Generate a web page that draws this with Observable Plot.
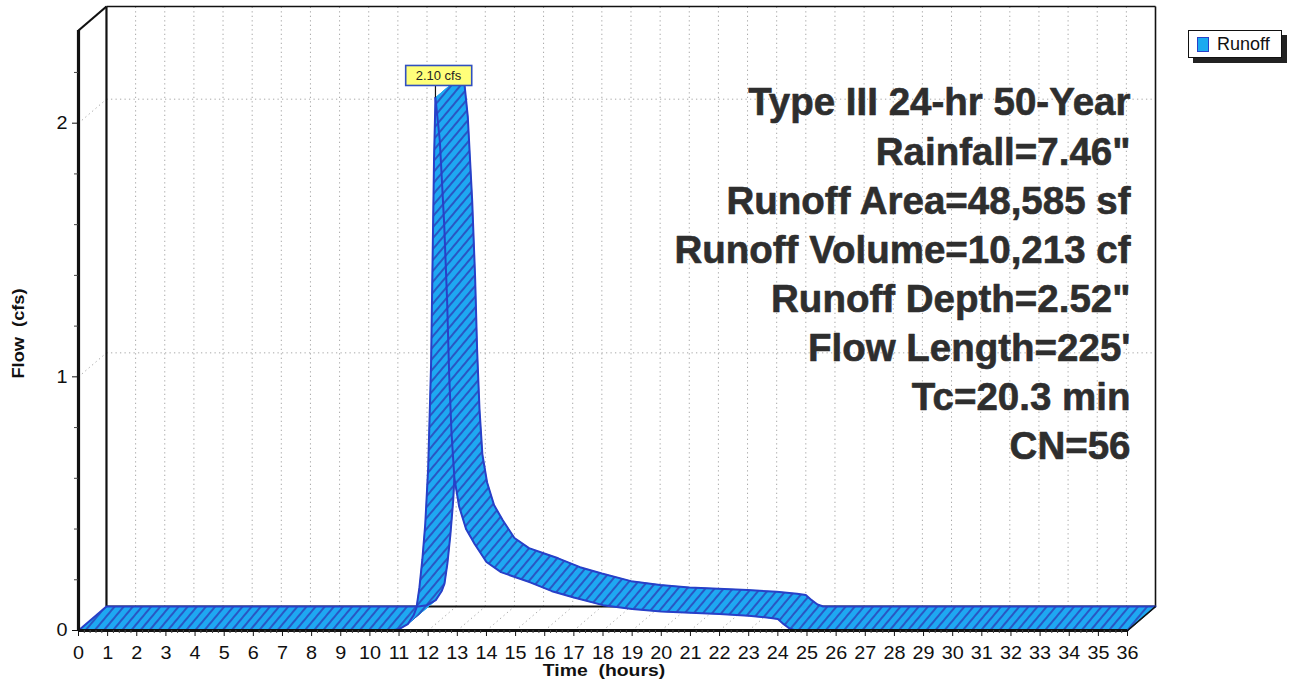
<!DOCTYPE html>
<html>
<head>
<meta charset="utf-8">
<script src="https://cdn.jsdelivr.net/npm/d3@7"></script>
<script src="https://cdn.jsdelivr.net/npm/@observablehq/plot@0.6"></script>
<style>
  body { margin: 0; background: #fff; font-family: "Liberation Sans", Arial, sans-serif; }
  #wrap { position: relative; width: 1292px; height: 684px; overflow: hidden; }
  #legend { position: absolute; left: 1188px; top: 30px; width: 92px; height: 26px; border: 1.5px solid #111;
            background: #fff; box-shadow: 5px 5px 0 #222; display: flex; align-items: center;
            font-size: 18px; color: #111; }
  #legend .sw { width: 10px; height: 13px; background: #1AAAF0; border: 1.5px solid #2840C8; margin: 0 8px 0 8px; }
</style>
</head>
<body>
<div id="wrap"></div>
<script>
// ---- data ----
const hours = [0, 10.7, 11.0, 11.3, 11.5, 11.6, 11.7, 11.8, 11.9, 12.0, 12.1, 12.15, 12.2, 12.25,
               12.4, 12.55, 12.65, 12.72, 12.8, 12.9, 13.06, 13.3, 13.6, 14.0, 14.5, 15.0, 15.5,
               16.25, 17.0, 18.0, 19.0, 20.0, 21.0, 22.0, 23.0, 23.7, 24.0, 24.2, 24.4, 24.6, 36];
const flow  = [0, 0, 0.005, 0.025, 0.06, 0.09, 0.17, 0.28, 0.42, 0.64, 1.05, 1.45, 1.85, 2.10,
               1.93, 1.60, 1.30, 1.01, 0.78, 0.60, 0.49, 0.40, 0.34, 0.27, 0.23, 0.21, 0.19,
               0.155, 0.13, 0.10, 0.085, 0.075, 0.07, 0.065, 0.058, 0.05, 0.045, 0.025, 0.008, 0, 0];
const seriesName = "Runoff";
const peakLabel = "2.10 cfs";
const xTicks = d3.range(0, 37);
const yTicks = [0, 1, 2];
const annotationLines = [
  "Type III 24-hr 50-Year",
  "Rainfall=7.46\"",
  "Runoff Area=48,585 sf",
  "Runoff Volume=10,213 cf",
  "Runoff Depth=2.52\"",
  "Flow Length=225'",
  "Tc=20.3 min",
  "CN=56"
];

// ---- 3D box geometry (depth offset in data units) ----
const DX = 0.96, DY = 0.0946;
const X_MAX = 36, Y_TOP = 2.46;
const FRONT_TOP = Y_TOP - DY;

const pts = hours.map((t, i) => ({t, v: flow[i]}));
const peakIdx = flow.indexOf(d3.max(flow));
const peak = pts[peakIdx];

function quads(from, to) {
  const out = [];
  for (let i = from; i < to; i++) {
    const a = pts[i], b = pts[i + 1];
    out.push({seg: i, x: a.t, y: a.v}, {seg: i, x: b.t, y: b.v},
             {seg: i, x: b.t + DX, y: b.v + DY}, {seg: i, x: a.t + DX, y: a.v + DY},
             {seg: i, x: a.t, y: a.v});
  }
  return out;
}
const riseQ = quads(0, peakIdx);
const fallQ = quads(peakIdx, pts.length - 1);
const front = p => ({x: p.t, y: p.v});
const back = p => ({x: p.t + DX, y: p.v + DY});
const riseF = pts.slice(0, peakIdx + 1).map(front), riseB = pts.slice(0, peakIdx + 1).map(back);
const fallF = pts.slice(peakIdx).map(front), fallB = pts.slice(peakIdx).map(back);

const backVert = d3.range(1, 36).map(h => ({x1: h + DX, y1: DY, x2: h + DX, y2: Y_TOP}));
const floorDiag = d3.range(1, 36).map(h => ({x1: h, y1: 0, x2: h + DX, y2: DY}));
const backHoriz = [1, 2].map(v => ({x1: DX, y1: v + DY, x2: X_MAX + DX, y2: v + DY}));
const sideDiag = [1, 2].map(v => ({x1: 0, y1: v, x2: DX, y2: v + DY}));
const frameThin = [
  {x1: DX, y1: Y_TOP, x2: X_MAX + DX, y2: Y_TOP},
  {x1: X_MAX + DX, y1: Y_TOP, x2: X_MAX + DX, y2: DY},
  {x1: X_MAX, y1: 0, x2: X_MAX + DX, y2: DY}
];
const frameMid = [
  {x1: DX, y1: DY, x2: DX, y2: Y_TOP},
  {x1: DX, y1: DY, x2: X_MAX + DX, y2: DY},
  {x1: 0, y1: FRONT_TOP, x2: DX, y2: Y_TOP}
];
const minorX = d3.range(0, 36.001, 0.2).filter(v => Math.abs(v - Math.round(v)) > 1e-6);
const minorY = d3.range(0.2, 2.21, 0.2).filter(v => Math.abs(v - Math.round(v)) > 1e-6);

const BLUE_LINE = "#2840C8";
const TICK_FILL = "#101010", TITLE_FILL = "#111111";
const GRID = {stroke: "#a8a8a8", strokeDasharray: "1.3,3.2", strokeWidth: 1};
const lk = (data, o) => Plot.link(data, {x1: "x1", y1: "y1", x2: "x2", y2: "y2", ...o});

const chart = Plot.plot({
  width: 1292, height: 684,
  marginLeft: 78, marginRight: 137, marginTop: 6, marginBottom: 54,
  x: {domain: [0, X_MAX + DX], label: null},
  y: {domain: [0, Y_TOP], label: null},
  style: {fontFamily: "'Liberation Sans', Arial, sans-serif", background: "#fff", color: "#111"},
  marks: [
    lk(backVert, GRID),
    lk(floorDiag, GRID),
    lk(backHoriz, GRID),
    lk(sideDiag, GRID),
    lk(frameThin, {stroke: "#111", strokeWidth: 1.6}),
    lk(frameMid, {stroke: "#111", strokeWidth: 2.2}),
    // ribbon: rising part
    Plot.line(riseQ, {x: "x", y: "y", z: "seg", fill: "url(#hatch)", stroke: "url(#hatch)", strokeWidth: 1, curve: "linear"}),
    Plot.line(riseF, {x: "x", y: "y", stroke: BLUE_LINE, strokeWidth: 2}),
    Plot.line(riseB, {x: "x", y: "y", stroke: BLUE_LINE, strokeWidth: 2}),
    // ribbon: falling part
    Plot.line(fallQ, {x: "x", y: "y", z: "seg", fill: "url(#hatch)", stroke: "url(#hatch)", strokeWidth: 1, curve: "linear"}),
    Plot.line(fallF, {x: "x", y: "y", stroke: BLUE_LINE, strokeWidth: 2}),
    Plot.line(fallB, {x: "x", y: "y", stroke: BLUE_LINE, strokeWidth: 2}),
    lk([{x1: 0, y1: 0, x2: DX, y2: DY}], {stroke: BLUE_LINE, strokeWidth: 2}),
    lk([{x1: X_MAX, y1: 0, x2: X_MAX + DX, y2: DY}], {stroke: "#111", strokeWidth: 1.6}),
    // front axes
    Plot.ruleX([0], {y1: 0, y2: FRONT_TOP, stroke: "#111", strokeWidth: 3.2}),
    Plot.ruleY([0], {x1: 0, x2: X_MAX, stroke: "#111", strokeWidth: 3}),
    Plot.axisX({ticks: xTicks, tickSize: 6, tickFormat: () => "", label: null, stroke: "#111"}),
    Plot.axisX({ticks: minorX, tickSize: 3, tickFormat: () => "", label: null, stroke: "#444"}),
    Plot.axisY({ticks: yTicks, tickSize: 6, tickFormat: () => "", label: null, stroke: "#111"}),
    Plot.axisY({ticks: minorY, tickSize: 4, tickFormat: () => "", label: null, stroke: "#444"}),
    // tick labels
    Plot.text(xTicks, {x: d => d, y: () => 0, text: d => String(d), dy: 23, fontSize: 18, fill: TICK_FILL}),
    Plot.text(yTicks, {x: () => 0, y: d => d, text: d => String(d), dx: -11, textAnchor: "end", fontSize: 18, fill: TICK_FILL}),
    // axis titles
    Plot.text(["Time\u00a0 (hours)"], {frameAnchor: "bottom", dx: -13, dy: 45, fontWeight: "bold", fontSize: 17, fill: TITLE_FILL}),
    Plot.text(["Flow\u00a0 (cfs)"], {frameAnchor: "left", textAnchor: "middle", dx: -60, dy: 15, rotate: -90, fontWeight: "bold", fontSize: 16, fill: TITLE_FILL}),
    // peak label
    Plot.ruleX([peak], {x: "t", y1: "v", y2: "v", insetTop: -12, stroke: "#111", strokeWidth: 1.2}),
    Plot.text([peak], {x: "t", y: "v", text: () => peakLabel, dy: -22, dx: 3, fontSize: 13, fill: "#222"}),
    // annotation block
    Plot.text([annotationLines.join("\n")], {frameAnchor: "right", dx: -25, dy: -47, textAnchor: "end",
      lineHeight: 1.275, fontSize: 38.5, fontWeight: "bold", fill: "#2e2e2e", stroke: "#2e2e2e", strokeWidth: 0.6})
  ]
});

const wrap = document.getElementById("wrap");
wrap.appendChild(chart);
const svg = d3.select(chart.tagName.toLowerCase() === "svg" ? chart : chart.querySelector("svg"));

// the reference lettering is slightly wide: stretch axis texts along their reading direction
function widen(fill, k) {
  svg.selectAll("g").filter(function () {
    return (this.getAttribute("fill") || "").toLowerCase() === fill;
  }).selectAll("text").each(function () {
    const tr = this.getAttribute("transform") || "";
    this.setAttribute("transform", tr + ` scale(${k},1)`);
  });
}
widen(TICK_FILL, 1.1);
widen(TITLE_FILL, 1.14);

// hatch pattern
const defs = svg.insert("defs", ":first-child");
const pat = defs.append("pattern").attr("id", "hatch").attr("patternUnits", "userSpaceOnUse")
  .attr("width", 7).attr("height", 7).attr("patternTransform", "rotate(40)");
pat.append("rect").attr("width", 7).attr("height", 7).attr("fill", "#1EA8F2");
pat.append("line").attr("x1", 1).attr("y1", -1).attr("x2", 1).attr("y2", 8)
  .attr("stroke", "#2C3CB4").attr("stroke-width", 1.5);

// yellow box behind peak label
svg.selectAll("text").filter(function () { return this.textContent === peakLabel; }).each(function () {
  const b = this.getBBox();
  const tr = this.getAttribute("transform");
  const r = d3.select(this.parentNode).insert("rect", () => this)
    .attr("x", b.x - 10).attr("y", b.y - 2.5).attr("width", b.width + 20).attr("height", b.height + 5)
    .attr("fill", "#FFFF7A").attr("stroke", "#3050C0").attr("stroke-width", 1.6);
  if (tr) r.attr("transform", tr);
});

// legend
const leg = document.createElement("div");
leg.id = "legend";
leg.innerHTML = `<span class="sw"></span><span>${seriesName}</span>`;
wrap.appendChild(leg);
</script>
</body>
</html>
